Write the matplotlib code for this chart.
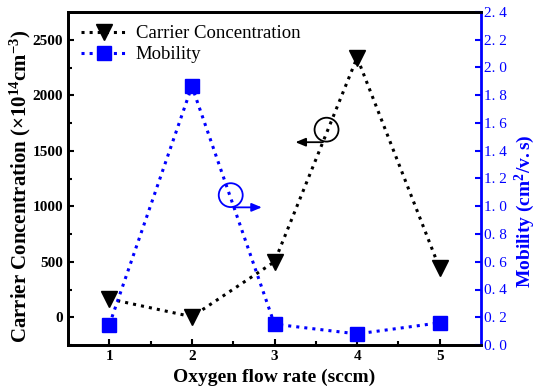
import matplotlib.pyplot as plt
from matplotlib.patches import Ellipse

plt.rcParams['font.family'] = ['Liberation Serif', 'DejaVu Serif']
plt.rcParams['mathtext.fontset'] = 'custom'
plt.rcParams['mathtext.rm'] = 'Liberation Serif'
plt.rcParams['mathtext.bf'] = 'Liberation Serif:bold'
plt.rcParams['mathtext.it'] = 'Liberation Serif:italic'

# data
flow = [1, 2, 3, 4, 5]
carrier = [165, 5, 500, 2340, 440]
mobility = [0.145, 1.865, 0.15, 0.08, 0.16]
mob_ticks = [0.0, 0.2, 0.4, 0.6, 0.8, 1.0, 1.2, 1.4, 1.6, 1.8, 2.0, 2.2, 2.4]

fig = plt.figure(figsize=(5.39, 3.91), dpi=100)
ax = fig.add_axes([68/539, 1-345/391, (481-68)/539, (345-12)/391])
ax2 = ax.twinx()

l1, = ax.plot(flow, carrier, ':', color='black', lw=2.2, marker='v', ms=12,
              markerfacecolor='black', label='Carrier Concentration')
l2, = ax2.plot(flow, mobility, ':', color='blue', lw=2.2, marker='s', ms=10,
               markerfacecolor='blue', label='Mobility')

ax.set_xlim(0.5, 5.5)
ax.set_ylim(-250, 2750)
ax2.set_ylim(0, 2.4)
ax.set_xticks([1, 2, 3, 4, 5])
ax.set_xticks([1.5, 2.5, 3.5, 4.5], minor=True)
ax.set_yticks([0, 500, 1000, 1500, 2000, 2500])
ax.set_yticks([-250, 250, 750, 1250, 1750, 2250], minor=True)
ax2.set_yticks(mob_ticks)
ax2.set_yticklabels([('%.1f' % v).replace('.', '. ') for v in mob_ticks])

for s in ['left', 'bottom', 'top']:
    ax.spines[s].set_linewidth(2)
    ax2.spines[s].set_linewidth(2)
ax2.spines['right'].set_linewidth(2)
ax2.spines['right'].set_color('blue')
ax.spines['right'].set_visible(False)

ax.tick_params(direction='in', width=1.5, length=4, labelsize=11)
ax.tick_params(which='minor', direction='in', width=1.5, length=3)
for lab in ax.get_xticklabels() + ax.get_yticklabels():
    lab.set_fontweight('bold')
ax2.tick_params(direction='in', width=1.5, length=4, colors='blue', labelsize=11, pad=2)

ax.set_xlabel('Oxygen flow rate (sccm)', fontsize=14, fontweight='bold')
ax.set_ylabel(r'Carrier Concentration ($\mathbf{\times10^{14}cm^{-3}}$)',
              fontsize=15, fontweight='bold')
ax.yaxis.set_label_coords(-0.085, 0.477)
ax2.set_ylabel(r'Mobility ($\mathbf{cm^{2}/v.s}$)', fontsize=14,
               fontweight='bold', color='blue')
ax2.yaxis.set_label_coords(1.076, 0.40)

ax.legend(handles=[l1, l2], loc='upper left', frameon=False, fontsize=13.5,
          handlelength=2.4, borderaxespad=0.3, labelspacing=0.2,
          handletextpad=0.5)

# indicator circles and arrows
ax.add_patch(Ellipse((3.63, 1690), 0.29, 215, fill=False, color='black', lw=1.3))
ax.annotate('', xy=(3.22, 1577), xytext=(3.62, 1577),
            arrowprops=dict(arrowstyle='-|>,head_length=0.6,head_width=0.25',
                            color='black', lw=1.3))
ax.add_patch(Ellipse((2.47, 1100), 0.29, 215, fill=False, color='blue', lw=1.3))
ax.annotate('', xy=(2.88, 990), xytext=(2.47, 990),
            arrowprops=dict(arrowstyle='-|>,head_length=0.6,head_width=0.25',
                            color='blue', lw=1.3))

fig.savefig('out.png', dpi=100)
